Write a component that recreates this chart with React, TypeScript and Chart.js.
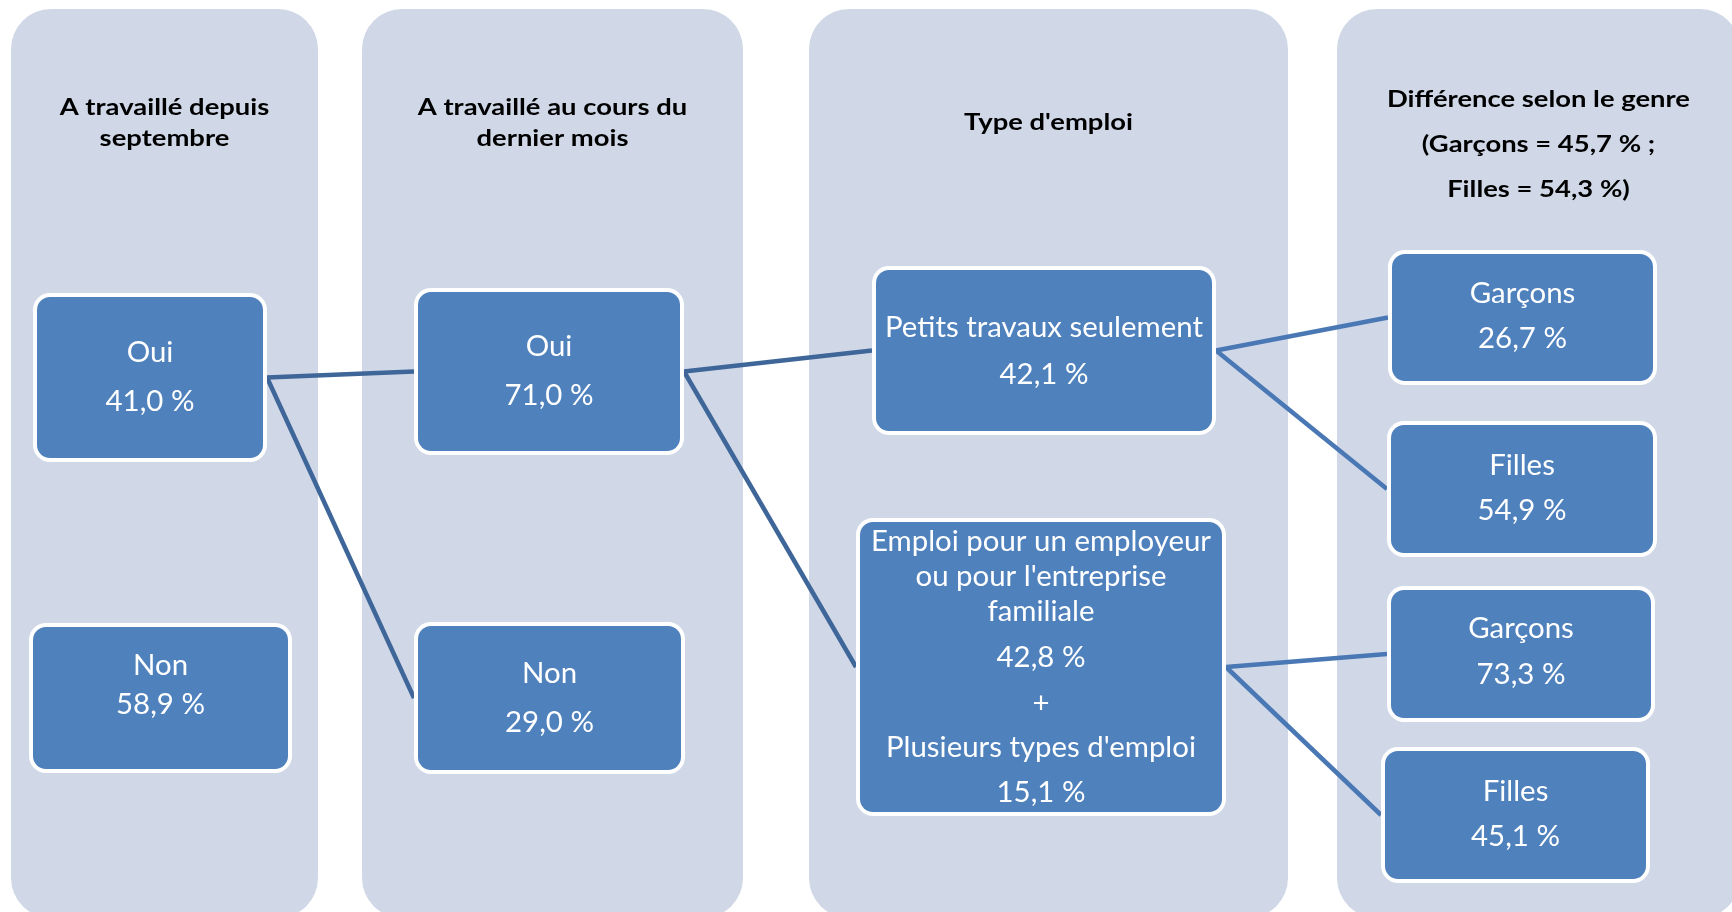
import React, { useEffect, useRef } from "react";
import { Chart, registerables } from "chart.js";

Chart.register(...registerables);

// ---------- data ----------
const panelTitles: string[][] = [
  ["A travaillé depuis", "septembre"],
  ["A travaillé au cours du", "dernier mois"],
  ["Type d'emploi"],
  ["Différence selon le genre", "(Garçons = 45,7 % ;", "Filles = 54,3 %)"],
];

const nodeNames: string[][] = [
  ["Oui"],
  ["Non"],
  ["Oui"],
  ["Non"],
  ["Petits travaux seulement"],
  ["Emploi pour un employeur", "ou pour l'entreprise", "familiale"],
  ["Garçons"],
  ["Filles"],
  ["Garçons"],
  ["Filles"],
];
const nodeValues = [41.0, 58.9, 71.0, 29.0, 42.1, 42.8, 26.7, 54.9, 73.3, 45.1];

const combinedNode = 5;
const combinedLabel = "Plusieurs types d'emploi";
const combinedValue = 15.1;

const edges: [number, number][] = [
  [0, 2], [0, 3], [2, 4], [2, 5], [4, 6], [4, 7], [5, 8], [5, 9],
];

// ---------- layout (pixel units of the hidden scales) ----------
const W = 1732;
const H = 912;
const panelBoxes = [
  [11, 9, 318, 918],
  [362, 9, 743, 918],
  [809, 9, 1288, 918],
  [1337, 9, 1740, 918],
];
const panelTitleBaselines = [[115, 146], [115, 146], [130], [107, 152, 197]];
const nodeBoxes = [
  [33, 293, 267, 462],
  [29, 623, 292, 773],
  [414, 288, 684, 455],
  [414, 622, 685, 774],
  [872, 266, 1216, 435],
  [856, 518, 1226, 816],
  [1388, 250, 1657, 385],
  [1387, 421, 1657, 557],
  [1387, 586, 1655, 722],
  [1381, 747, 1650, 883],
];
const nodeBaselines = [
  [362, 411],
  [675, 714],
  [356, 405],
  [683, 732],
  [337, 384],
  [551, 586, 621, 667, 713, 757, 802],
  [303, 348],
  [475, 520],
  [638, 684],
  [801, 846],
];

const PANEL_COLOR = "#D0D8E8";
const BOX_COLOR = "#4F81BD";
const EDGE_DARK = "#3F6699";
const EDGE_LIGHT = "#4A78B4";
const FONT = "Lato, 'Open Sans', sans-serif";
const BODY_SIZE = 28;
const TITLE_SIZE = 23;

const fmt = (v: number) => v.toFixed(1).replace(".", ",") + " %";

function nodeLines(i: number): string[] {
  const lines = [...nodeNames[i], fmt(nodeValues[i])];
  if (i === combinedNode) lines.push("+", combinedLabel, fmt(combinedValue));
  return lines;
}

const diagramPlugin = {
  id: "diagram",
  beforeDatasetsDraw(chart: any) {
    const { ctx, scales } = chart;
    const X = (v: number) => scales.x.getPixelForValue(v);
    const Y = (v: number) => scales.y.getPixelForValue(v);
    ctx.save();
    // panels
    panelBoxes.forEach((p) => {
      ctx.beginPath();
      ctx.fillStyle = PANEL_COLOR;
      ctx.roundRect(X(p[0]), Y(p[1]), X(p[2]) - X(p[0]), Y(p[3]) - Y(p[1]), 40);
      ctx.fill();
    });
    // titles
    ctx.font = `bold ${TITLE_SIZE}px ${FONT}`;
    const sx = 303 / ctx.measureText("Différence selon le genre").width;
    ctx.fillStyle = "#000000";
    ctx.textAlign = "center";
    ctx.textBaseline = "alphabetic";
    panelTitles.forEach((lines, pi) => {
      const p = panelBoxes[pi];
      const cx = (X(p[0]) + X(p[2])) / 2;
      lines.forEach((t, li) => {
        ctx.save();
        ctx.translate(cx, Y(panelTitleBaselines[pi][li]));
        ctx.scale(sx, 1);
        ctx.fillText(t, 0, 0);
        ctx.restore();
      });
    });
    ctx.restore();
  },
  afterDatasetsDraw(chart: any) {
    const { ctx, scales } = chart;
    const X = (v: number) => scales.x.getPixelForValue(v);
    const Y = (v: number) => scales.y.getPixelForValue(v);
    ctx.save();
    ctx.font = `${BODY_SIZE}px ${FONT}`;
    const sx = 318 / ctx.measureText("Petits travaux seulement").width;
    nodeBoxes.forEach((b, i) => {
      const x0 = X(b[0]), y0 = Y(b[1]), x1 = X(b[2]), y1 = Y(b[3]);
      ctx.beginPath();
      ctx.fillStyle = "#FFFFFF";
      ctx.roundRect(x0, y0, x1 - x0, y1 - y0, 17);
      ctx.fill();
      ctx.beginPath();
      ctx.fillStyle = BOX_COLOR;
      ctx.roundRect(x0 + 4, y0 + 4, x1 - x0 - 8, y1 - y0 - 8, 13);
      ctx.fill();
      const cx = (x0 + x1) / 2;
      ctx.fillStyle = "#FFFFFF";
      ctx.textAlign = "center";
      ctx.textBaseline = "alphabetic";
      nodeLines(i).forEach((t, li) => {
        ctx.save();
        ctx.translate(cx, Y(nodeBaselines[i][li]));
        ctx.scale(sx, 1);
        ctx.fillText(t, 0, 0);
        ctx.restore();
      });
    });
    ctx.restore();
  },
};

export default function App() {
  const ref = useRef<HTMLCanvasElement>(null);
  useEffect(() => {
    document.body.style.margin = "0";
    const canvas = ref.current;
    if (!canvas) return;
    const centers = nodeBoxes.map((b) => ({ x: (b[0] + b[2]) / 2, y: (b[1] + b[3]) / 2 }));
    const edgeSets = edges.map(([a, b], k) => {
      const A = nodeBoxes[a];
      const B = nodeBoxes[b];
      return {
        type: "line" as const,
        label: `edge${k}`,
        data: [
          { x: A[2], y: (A[1] + A[3]) / 2 },
          { x: B[0], y: (B[1] + B[3]) / 2 },
        ],
        showLine: true,
        borderColor: a < 4 ? EDGE_DARK : EDGE_LIGHT,
        borderWidth: 4.5,
        pointRadius: 0,
        fill: false,
        tension: 0,
      };
    });
    const chart = new Chart(canvas, {
      type: "scatter",
      data: {
        datasets: [
          { label: "nodes", data: centers, pointRadius: 0, showLine: false } as any,
          ...edgeSets,
        ],
      },
      options: {
        animation: false,
        responsive: false,
        devicePixelRatio: 1,
        layout: { padding: 0 },
        events: [],
        plugins: { legend: { display: false }, tooltip: { enabled: false } },
        scales: {
          x: { type: "linear", min: 0, max: W, display: false },
          y: { type: "linear", min: 0, max: H, reverse: true, display: false },
        },
      },
      plugins: [diagramPlugin],
    });
    return () => chart.destroy();
  }, []);
  return (
    <canvas
      ref={ref}
      width={W}
      height={H}
      style={{ display: "block", width: W, height: H, background: "#FFFFFF" }}
    />
  );
}
